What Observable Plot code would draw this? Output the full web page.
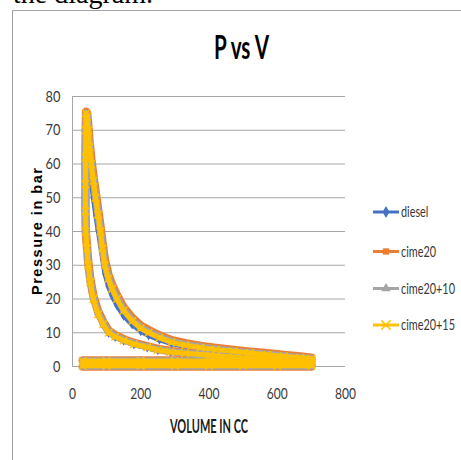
<!DOCTYPE html>
<html>
<head>
<meta charset="utf-8">
<script src="https://cdn.jsdelivr.net/npm/d3@7"></script>
<script src="https://cdn.jsdelivr.net/npm/@observablehq/plot@0.6"></script>
<style>
html, body { margin: 0; padding: 0; background: #fff; }
#wrap { position: relative; width: 461px; height: 460px; overflow: hidden; }
</style>
</head>
<body>
<div id="wrap"></div>
<script>
// ---- data ----
const seriesNames = ["diesel", "cime20", "cime20+10", "cime20+15"];
const seriesColors = ["#4472C4", "#ED7D31", "#A5A5A5", "#FFC000"];
const seriesSymbols = ["diamond", "square", "triangle", "times"];
const xTicks = [0, 200, 400, 600, 800];
const yTicks = [0, 10, 20, 30, 40, 50, 60, 70, 80];

// volume (cc), shared by the four series: intake, compression, combustion, expansion, exhaust
const volume = [
  30, 100, 200, 300, 400, 500, 600, 700,
  700, 600, 500, 404, 330, 287, 250, 219, 180, 150, 125, 106, 90, 75, 61, 52, 46, 42, 39,
  38, 38, 38, 39, 40,
  43, 46, 50, 55, 61, 68, 75, 82, 88, 95, 105, 116, 130, 150, 175, 200, 223, 255, 290, 330, 375, 420, 472, 520, 571, 620, 668, 700,
  700, 600, 500, 400, 300, 200, 100, 30
];

const dieselP = [
  0.3, 0.3, 0.3, 0.3, 0.3, 0.3, 0.3, 0.3,
  0.9, 1.8, 2.5, 3.2, 3.8, 4.2, 4.8, 5.6, 6.5, 7.6, 8.7, 9.9, 12.3, 15.3, 19.6, 24.5, 29.5, 34, 38,
  44, 51, 58, 65, 72,
  71, 66, 60, 55, 50, 45, 40.5, 36, 32, 27.5, 23.8, 21, 18.2, 15, 12.4, 10.4, 9.2, 7.9, 6.8, 5.9, 5.3, 4.7, 4.2, 3.8, 3.3, 2.9, 2.5, 2.2,
  1.6, 1.6, 1.6, 1.6, 1.6, 1.6, 1.6, 1.6
];
const cime20P = [
  0.0, 0.0, 0.0, 0.0, 0.0, 0.0, 0.0, 0.0,
  1.0, 2.0, 2.7, 3.5, 4.1, 4.6, 5.2, 6.0, 7.0, 8.1, 9.3, 10.6, 13.2, 16.3, 21, 26, 31, 36, 40,
  46, 54, 62, 70, 75.5,
  75, 71.5, 66.5, 61.5, 56.5, 51.5, 46.5, 41.5, 36.5, 31.5, 27.3, 24.2, 21.2, 17.5, 14.4, 12.1, 10.8, 9.2, 7.8, 6.9, 6.1, 5.5, 4.9, 4.4, 3.9, 3.4, 3.0, 2.6,
  1.8, 1.8, 1.8, 1.8, 1.8, 1.8, 1.8, 1.8
];
const cime2010P = [
  0.1, 0.1, 0.1, 0.1, 0.1, 0.1, 0.1, 0.1,
  0.9, 1.9, 2.6, 3.4, 4.0, 4.4, 5.0, 5.8, 6.8, 7.9, 9.0, 10.3, 12.8, 15.9, 20.5, 25.5, 30.5, 35.5, 40,
  46, 54, 62, 70, 75,
  74.5, 70.5, 65.5, 60.5, 55.5, 50.5, 45.5, 40.5, 35.5, 30.5, 26.5, 23.4, 20.4, 16.8, 13.8, 11.6, 10.3, 8.8, 7.4, 6.5, 5.8, 5.2, 4.6, 4.1, 3.6, 3.1, 2.7, 2.4,
  1.7, 1.7, 1.7, 1.7, 1.7, 1.7, 1.7, 1.7
];
const cime2015P = [
  0.2, 0.2, 0.2, 0.2, 0.2, 0.2, 0.2, 0.2,
  0.9, 1.9, 2.5, 3.3, 3.9, 4.3, 4.9, 5.7, 6.6, 7.7, 8.8, 10, 12.5, 15.5, 20, 25, 30, 35, 40,
  46, 54, 62, 70, 75,
  74, 70, 65, 60, 55, 50, 45, 40, 35, 30, 26, 23, 20, 16.5, 13.5, 11.3, 10, 8.5, 7.2, 6.3, 5.6, 5.0, 4.5, 4.0, 3.5, 3.0, 2.6, 2.3,
  1.6, 1.6, 1.6, 1.6, 1.6, 1.6, 1.6, 1.6
];
const pressures = [dieselP, cime20P, cime2010P, cime2015P];

// ---- build ----
const lineWidths = [5, 8.5, 7, 5];
const marks = [];
marks.push(Plot.gridY(yTicks, {stroke: "#a6a6a6", strokeOpacity: 1, strokeWidth: 1}));
marks.push(Plot.ruleX([0], {y1: 0, y2: 80, stroke: "#a6a6a6", strokeWidth: 1}));
seriesNames.forEach((name, i) => {
  const rows = volume.map((v, j) => ({series: name, v, p: pressures[i][j]}));
  marks.push(Plot.line(rows, {x: "v", y: "p", stroke: seriesColors[i], strokeWidth: lineWidths[i], strokeLinejoin: "round", strokeLinecap: "round"}));
  if (seriesSymbols[i] === "times") {
    marks.push(Plot.dot(rows, {x: "v", y: "p", symbol: "times", r: 3.5, fill: "none", stroke: seriesColors[i], strokeWidth: 1.5}));
  } else {
    marks.push(Plot.dot(rows, {x: "v", y: "p", symbol: seriesSymbols[i], r: 3, fill: seriesColors[i], stroke: "none"}));
  }
});
marks.push(Plot.axisY(yTicks, {tickSize: 0, tickPadding: 12, fontSize: 16, fill: "#3a3a3a", label: null}));
marks.push(Plot.axisX(xTicks, {tickSize: 0, tickPadding: 21, fontSize: 16, fill: "#3a3a3a", label: null}));

const chart = Plot.plot({
  width: 461,
  height: 460,
  marginLeft: 72,
  marginRight: 116,
  marginTop: 96,
  marginBottom: 94,
  x: {domain: [0, 800]},
  y: {domain: [0, 80]},
  style: {fontFamily: "Lato, 'Open Sans', sans-serif", background: "#fff", overflow: "visible"},
  marks
});
document.getElementById("wrap").appendChild(chart);

const svg = d3.select(chart);
function squeeze(sel, f) {
  sel.each(function () {
    const w = this.getComputedTextLength();
    if (w > 0) {
      this.setAttribute("textLength", (w * f).toFixed(1));
      this.setAttribute("lengthAdjust", "spacingAndGlyphs");
    }
  });
}
squeeze(svg.selectAll('g[aria-label="y-axis tick label"] text'), 0.8);
squeeze(svg.selectAll('g[aria-label="x-axis tick label"] text'), 0.75);

const deco = svg.append("g").attr("class", "deco");
// frame of the pasted figure
deco.append("line").attr("x1", 12.5).attr("y1", 10.5).attr("x2", 461).attr("y2", 10.5).attr("stroke", "#a0a0a0");
deco.append("line").attr("x1", 12.5).attr("y1", 10.5).attr("x2", 12.5).attr("y2", 460).attr("stroke", "#a0a0a0");
// text of the page above the figure (cut off in the reference)
deco.append("text").attr("x", 13).attr("y", 3).attr("text-anchor", "start")
  .attr("font-family", "'Liberation Serif', 'Times New Roman', serif").attr("font-size", 28)
  .attr("fill", "#000").text("the diagram.");
// title
deco.append("text").attr("x", 241.5).attr("y", 59).attr("text-anchor", "middle")
  .attr("font-family", "Lato, sans-serif").attr("font-weight", "bold").attr("font-size", 32)
  .attr("fill", "#000").attr("textLength", 55).attr("lengthAdjust", "spacingAndGlyphs").text("P vs V");
// axis titles
deco.append("text").attr("x", 209).attr("y", 433).attr("text-anchor", "middle")
  .attr("font-family", "Lato, sans-serif").attr("font-weight", "bold").attr("font-size", 18)
  .attr("fill", "#1a1a1a").attr("textLength", 78).attr("lengthAdjust", "spacingAndGlyphs").text("VOLUME IN CC");
deco.append("text").attr("transform", "translate(42,231.5) rotate(-90)").attr("text-anchor", "middle")
  .attr("font-family", "'Liberation Sans', Arial, sans-serif").attr("font-weight", "bold").attr("font-size", 14.5)
  .attr("fill", "#000").attr("textLength", 127).attr("lengthAdjust", "spacing").text("Pressure in bar");

// legend
const legendY = [212, 251.5, 288.5, 325];
const symFns = {diamond: d3.symbolDiamond, square: d3.symbolSquare, triangle: d3.symbolTriangle, times: d3.symbolTimes || d3.symbolCross};
seriesNames.forEach((name, i) => {
  const g = deco.append("g").attr("transform", `translate(0,${legendY[i]})`);
  g.append("line").attr("x1", 373).attr("x2", 399).attr("y1", 0).attr("y2", 0)
    .attr("stroke", seriesColors[i]).attr("stroke-width", 3);
  const sym = g.append("path").attr("transform", "translate(386,0)")
    .attr("d", d3.symbol(symFns[seriesSymbols[i]], seriesSymbols[i] === "times" ? 60 : 40)());
  if (seriesSymbols[i] === "times") sym.attr("fill", "none").attr("stroke", seriesColors[i]).attr("stroke-width", 1.5);
  else sym.attr("fill", seriesColors[i]);
  g.append("text").attr("transform", "translate(401,5) scale(0.75,1)").attr("text-anchor", "start")
    .attr("font-family", "Lato, sans-serif").attr("font-size", 14.5).attr("fill", "#3a3a3a").text(name);
});
</script>
</body>
</html>
